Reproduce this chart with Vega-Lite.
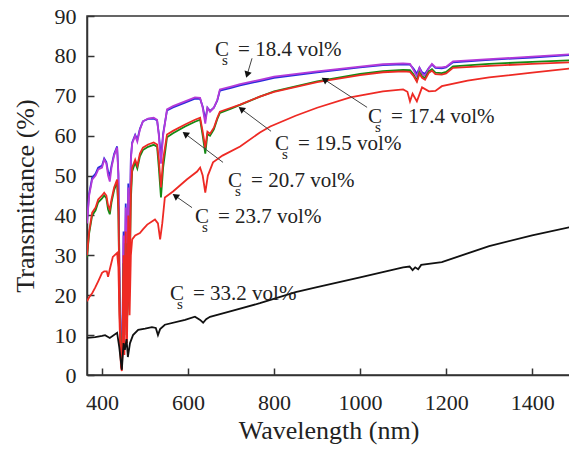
{
 "$schema": "https://vega.github.io/schema/vega-lite/v6.json",
 "autosize": "none",
 "width": 483,
 "height": 359,
 "padding": {"left": 87, "top": 16, "right": 0, "bottom": 74},
 "background": "white",
 "config": {
  "font": "Liberation Serif, Times New Roman, serif",
  "view": {"stroke": "#333", "strokeWidth": 1.5},
  "axis": {"grid": false, "domainColor": "#333", "domainWidth": 1.5, "tickColor": "#333", "tickWidth": 1.5, "tickSize": -7, "labelFontSize": 22, "labelColor": "#222", "labelFont": "Liberation Serif, Times New Roman, serif", "titleFont": "Liberation Serif, Times New Roman, serif", "titleFontSize": 26, "titleFontWeight": "normal", "titleColor": "#222", "labelFlush": false, "labelOverlap": false, "format": "d"},
  "axisX": {"labelPadding": 24, "titlePadding": 4},
  "axisY": {"labelPadding": 18, "titlePadding": 16}
 },
 "datasets": {
  "curves": [
   {"s":"17.4","w":365,"t":38.5},{"s":"17.4","w":370,"t":45.5},{"s":"17.4","w":377,"t":49.5},{"s":"17.4","w":385,"t":50.5},{"s":"17.4","w":391,"t":52},{"s":"17.4","w":400,"t":52.5},{"s":"17.4","w":405,"t":54.3},{"s":"17.4","w":410,"t":53.4},{"s":"17.4","w":414,"t":51},{"s":"17.4","w":418,"t":50},{"s":"17.4","w":422,"t":52.5},{"s":"17.4","w":428,"t":55.4},{"s":"17.4","w":435,"t":57.3},{"s":"17.4","w":438,"t":50.5},{"s":"17.4","w":441,"t":21},{"s":"17.4","w":444,"t":5},{"s":"17.4","w":446,"t":2.5},{"s":"17.4","w":448,"t":16},{"s":"17.4","w":450,"t":36},{"s":"17.4","w":452,"t":13},{"s":"17.4","w":455,"t":43},{"s":"17.4","w":458,"t":24},{"s":"17.4","w":461,"t":48},{"s":"17.4","w":464,"t":34},{"s":"17.4","w":467,"t":54.5},{"s":"17.4","w":470,"t":58.3},{"s":"17.4","w":477,"t":60.2},{"s":"17.4","w":482,"t":59},{"s":"17.4","w":488,"t":61.7},{"s":"17.4","w":495,"t":63.6},{"s":"17.4","w":507,"t":64.2},{"s":"17.4","w":520,"t":64.3},{"s":"17.4","w":528,"t":63.8},{"s":"17.4","w":532,"t":60.5},{"s":"17.4","w":537,"t":54.5},{"s":"17.4","w":542,"t":60.5},{"s":"17.4","w":551,"t":66.3},{"s":"17.4","w":565,"t":67.1},{"s":"17.4","w":593,"t":68.3},{"s":"17.4","w":616,"t":69.3},{"s":"17.4","w":628,"t":69.2},{"s":"17.4","w":634,"t":67.3},{"s":"17.4","w":640,"t":64},{"s":"17.4","w":645,"t":67},{"s":"17.4","w":651,"t":66.2},{"s":"17.4","w":660,"t":67},{"s":"17.4","w":668,"t":68.8},{"s":"17.4","w":674,"t":71.3},{"s":"17.4","w":700,"t":72},{"s":"17.4","w":721,"t":72.6},{"s":"17.4","w":767,"t":73.7},{"s":"17.4","w":800,"t":74.5},{"s":"17.4","w":900,"t":75.9},{"s":"17.4","w":1000,"t":77.1},{"s":"17.4","w":1053,"t":77.7},{"s":"17.4","w":1100,"t":77.9},{"s":"17.4","w":1116,"t":77.8},{"s":"17.4","w":1124,"t":76.8},{"s":"17.4","w":1132,"t":75.5},{"s":"17.4","w":1138,"t":77},{"s":"17.4","w":1144,"t":75.9},{"s":"17.4","w":1151,"t":75.5},{"s":"17.4","w":1160,"t":77},{"s":"17.4","w":1167,"t":77.8},{"s":"17.4","w":1175,"t":77},{"s":"17.4","w":1190,"t":76.9},{"s":"17.4","w":1200,"t":77.1},{"s":"17.4","w":1216,"t":78.4},{"s":"17.4","w":1300,"t":79},{"s":"17.4","w":1400,"t":79.6},{"s":"17.4","w":1486,"t":80.2},

   {"s":"18.4","w":365,"t":38},{"s":"18.4","w":370,"t":45},{"s":"18.4","w":377,"t":49},{"s":"18.4","w":385,"t":50},{"s":"18.4","w":391,"t":51.5},{"s":"18.4","w":400,"t":52},{"s":"18.4","w":405,"t":54},{"s":"18.4","w":410,"t":53},{"s":"18.4","w":414,"t":50},{"s":"18.4","w":418,"t":48.5},{"s":"18.4","w":422,"t":52},{"s":"18.4","w":428,"t":55},{"s":"18.4","w":435,"t":57},{"s":"18.4","w":438,"t":50},{"s":"18.4","w":441,"t":20},{"s":"18.4","w":444,"t":4},{"s":"18.4","w":446,"t":2},{"s":"18.4","w":448,"t":15},{"s":"18.4","w":450,"t":35},{"s":"18.4","w":452,"t":12},{"s":"18.4","w":455,"t":42},{"s":"18.4","w":458,"t":22},{"s":"18.4","w":461,"t":47},{"s":"18.4","w":464,"t":32},{"s":"18.4","w":467,"t":54},{"s":"18.4","w":470,"t":58},{"s":"18.4","w":477,"t":60},{"s":"18.4","w":482,"t":58.5},{"s":"18.4","w":488,"t":61.5},{"s":"18.4","w":495,"t":63.6},{"s":"18.4","w":507,"t":64.3},{"s":"18.4","w":520,"t":64.5},{"s":"18.4","w":528,"t":64},{"s":"18.4","w":532,"t":60},{"s":"18.4","w":537,"t":53},{"s":"18.4","w":542,"t":60},{"s":"18.4","w":551,"t":66.6},{"s":"18.4","w":565,"t":67.4},{"s":"18.4","w":593,"t":68.6},{"s":"18.4","w":616,"t":69.6},{"s":"18.4","w":628,"t":69.5},{"s":"18.4","w":634,"t":67},{"s":"18.4","w":640,"t":63},{"s":"18.4","w":645,"t":67},{"s":"18.4","w":651,"t":66},{"s":"18.4","w":660,"t":67},{"s":"18.4","w":668,"t":69},{"s":"18.4","w":674,"t":71.6},{"s":"18.4","w":700,"t":72.3},{"s":"18.4","w":721,"t":72.9},{"s":"18.4","w":767,"t":74},{"s":"18.4","w":800,"t":74.8},{"s":"18.4","w":900,"t":76.1},{"s":"18.4","w":1000,"t":77.3},{"s":"18.4","w":1053,"t":77.9},{"s":"18.4","w":1100,"t":78.1},{"s":"18.4","w":1116,"t":78},{"s":"18.4","w":1124,"t":76.5},{"s":"18.4","w":1132,"t":74.8},{"s":"18.4","w":1138,"t":77},{"s":"18.4","w":1144,"t":75.5},{"s":"18.4","w":1151,"t":75},{"s":"18.4","w":1160,"t":77},{"s":"18.4","w":1167,"t":78},{"s":"18.4","w":1175,"t":77.2},{"s":"18.4","w":1190,"t":77.1},{"s":"18.4","w":1200,"t":77.3},{"s":"18.4","w":1216,"t":78.6},{"s":"18.4","w":1300,"t":79.2},{"s":"18.4","w":1400,"t":79.8},{"s":"18.4","w":1486,"t":80.4},

   {"s":"19.5","w":365,"t":29.5},{"s":"19.5","w":370,"t":35.5},{"s":"19.5","w":377,"t":40},{"s":"19.5","w":385,"t":41.3},{"s":"19.5","w":391,"t":43.3},{"s":"19.5","w":400,"t":44.3},{"s":"19.5","w":405,"t":45},{"s":"19.5","w":410,"t":44.3},{"s":"19.5","w":414,"t":41.5},{"s":"19.5","w":418,"t":40.3},{"s":"19.5","w":422,"t":43.3},{"s":"19.5","w":428,"t":46.3},{"s":"19.5","w":435,"t":48.4},{"s":"19.5","w":438,"t":41},{"s":"19.5","w":441,"t":16},{"s":"19.5","w":444,"t":3},{"s":"19.5","w":446,"t":2},{"s":"19.5","w":448,"t":12},{"s":"19.5","w":450,"t":28},{"s":"19.5","w":452,"t":10},{"s":"19.5","w":455,"t":33},{"s":"19.5","w":458,"t":14},{"s":"19.5","w":461,"t":19},{"s":"19.5","w":464,"t":25},{"s":"19.5","w":467,"t":44},{"s":"19.5","w":470,"t":51},{"s":"19.5","w":477,"t":53.3},{"s":"19.5","w":482,"t":51.8},{"s":"19.5","w":488,"t":54.8},{"s":"19.5","w":495,"t":56.4},{"s":"19.5","w":507,"t":57.2},{"s":"19.5","w":520,"t":57.7},{"s":"19.5","w":528,"t":57.2},{"s":"19.5","w":532,"t":52},{"s":"19.5","w":537,"t":44.5},{"s":"19.5","w":542,"t":52},{"s":"19.5","w":551,"t":59.6},{"s":"19.5","w":565,"t":60.6},{"s":"19.5","w":593,"t":62.3},{"s":"19.5","w":616,"t":63.5},{"s":"19.5","w":628,"t":64},{"s":"19.5","w":634,"t":60},{"s":"19.5","w":640,"t":55.5},{"s":"19.5","w":645,"t":60.4},{"s":"19.5","w":651,"t":60},{"s":"19.5","w":660,"t":61.6},{"s":"19.5","w":668,"t":64.2},{"s":"19.5","w":674,"t":65.7},{"s":"19.5","w":700,"t":66.8},{"s":"19.5","w":721,"t":67.7},{"s":"19.5","w":767,"t":69.8},{"s":"19.5","w":800,"t":71.1},{"s":"19.5","w":900,"t":73.6},{"s":"19.5","w":1000,"t":75.5},{"s":"19.5","w":1053,"t":76.2},{"s":"19.5","w":1100,"t":76.5},{"s":"19.5","w":1116,"t":76.4},{"s":"19.5","w":1124,"t":75.4},{"s":"19.5","w":1132,"t":73.8},{"s":"19.5","w":1138,"t":75.9},{"s":"19.5","w":1144,"t":74.9},{"s":"19.5","w":1151,"t":74.4},{"s":"19.5","w":1160,"t":76.2},{"s":"19.5","w":1167,"t":76.7},{"s":"19.5","w":1175,"t":75.8},{"s":"19.5","w":1190,"t":75.7},{"s":"19.5","w":1200,"t":76},{"s":"19.5","w":1216,"t":77.4},{"s":"19.5","w":1300,"t":78},{"s":"19.5","w":1400,"t":78.5},{"s":"19.5","w":1486,"t":78.9},

   {"s":"20.7","w":365,"t":30},{"s":"20.7","w":370,"t":36},{"s":"20.7","w":377,"t":40.7},{"s":"20.7","w":385,"t":42},{"s":"20.7","w":391,"t":44},{"s":"20.7","w":400,"t":45},{"s":"20.7","w":405,"t":45.7},{"s":"20.7","w":410,"t":45},{"s":"20.7","w":414,"t":42.5},{"s":"20.7","w":418,"t":41.5},{"s":"20.7","w":422,"t":44},{"s":"20.7","w":428,"t":47},{"s":"20.7","w":435,"t":49},{"s":"20.7","w":438,"t":42},{"s":"20.7","w":441,"t":15},{"s":"20.7","w":444,"t":2.5},{"s":"20.7","w":446,"t":1.5},{"s":"20.7","w":448,"t":10},{"s":"20.7","w":450,"t":30},{"s":"20.7","w":452,"t":8},{"s":"20.7","w":455,"t":36},{"s":"20.7","w":458,"t":12},{"s":"20.7","w":461,"t":40},{"s":"20.7","w":464,"t":22},{"s":"20.7","w":467,"t":46},{"s":"20.7","w":470,"t":52},{"s":"20.7","w":477,"t":54},{"s":"20.7","w":482,"t":52.5},{"s":"20.7","w":488,"t":55.5},{"s":"20.7","w":495,"t":57},{"s":"20.7","w":507,"t":57.8},{"s":"20.7","w":520,"t":58.3},{"s":"20.7","w":528,"t":57.8},{"s":"20.7","w":532,"t":54},{"s":"20.7","w":537,"t":47},{"s":"20.7","w":542,"t":54},{"s":"20.7","w":551,"t":60.3},{"s":"20.7","w":565,"t":61.2},{"s":"20.7","w":593,"t":62.8},{"s":"20.7","w":616,"t":64},{"s":"20.7","w":628,"t":64.5},{"s":"20.7","w":634,"t":61},{"s":"20.7","w":640,"t":57},{"s":"20.7","w":645,"t":61},{"s":"20.7","w":651,"t":60.5},{"s":"20.7","w":660,"t":62},{"s":"20.7","w":668,"t":64.5},{"s":"20.7","w":674,"t":66},{"s":"20.7","w":700,"t":67},{"s":"20.7","w":721,"t":67.8},{"s":"20.7","w":767,"t":69.8},{"s":"20.7","w":800,"t":71},{"s":"20.7","w":900,"t":73.4},{"s":"20.7","w":1000,"t":75.2},{"s":"20.7","w":1053,"t":75.9},{"s":"20.7","w":1100,"t":76.1},{"s":"20.7","w":1116,"t":76},{"s":"20.7","w":1124,"t":75},{"s":"20.7","w":1132,"t":73.5},{"s":"20.7","w":1138,"t":75.5},{"s":"20.7","w":1144,"t":74.5},{"s":"20.7","w":1151,"t":74},{"s":"20.7","w":1160,"t":75.8},{"s":"20.7","w":1167,"t":76.3},{"s":"20.7","w":1175,"t":75.4},{"s":"20.7","w":1190,"t":75.3},{"s":"20.7","w":1200,"t":75.6},{"s":"20.7","w":1216,"t":77},{"s":"20.7","w":1300,"t":77.5},{"s":"20.7","w":1400,"t":78},{"s":"20.7","w":1486,"t":78.4},

   {"s":"23.7","w":365,"t":18.5},{"s":"23.7","w":370,"t":19.5},{"s":"23.7","w":377,"t":20.5},{"s":"23.7","w":384,"t":21.9},{"s":"23.7","w":391,"t":23.5},{"s":"23.7","w":400,"t":25.6},{"s":"23.7","w":405,"t":26},{"s":"23.7","w":411,"t":26},{"s":"23.7","w":414,"t":24.6},{"s":"23.7","w":418,"t":26.5},{"s":"23.7","w":425,"t":29.6},{"s":"23.7","w":435,"t":30.6},{"s":"23.7","w":438,"t":27},{"s":"23.7","w":441,"t":12},{"s":"23.7","w":444,"t":2},{"s":"23.7","w":446,"t":1},{"s":"23.7","w":448,"t":8},{"s":"23.7","w":450,"t":25},{"s":"23.7","w":452,"t":5},{"s":"23.7","w":455,"t":30},{"s":"23.7","w":458,"t":8},{"s":"23.7","w":461,"t":33},{"s":"23.7","w":464,"t":15},{"s":"23.7","w":467,"t":30},{"s":"23.7","w":470,"t":34},{"s":"23.7","w":477,"t":35},{"s":"23.7","w":488,"t":35.6},{"s":"23.7","w":495,"t":36.5},{"s":"23.7","w":505,"t":37.7},{"s":"23.7","w":523,"t":39},{"s":"23.7","w":530,"t":38},{"s":"23.7","w":535,"t":34},{"s":"23.7","w":540,"t":38},{"s":"23.7","w":546,"t":44.5},{"s":"23.7","w":565,"t":46},{"s":"23.7","w":597,"t":49},{"s":"23.7","w":621,"t":51},{"s":"23.7","w":628,"t":52},{"s":"23.7","w":634,"t":50},{"s":"23.7","w":640,"t":45.7},{"s":"23.7","w":646,"t":50},{"s":"23.7","w":658,"t":53.3},{"s":"23.7","w":680,"t":55},{"s":"23.7","w":721,"t":57.3},{"s":"23.7","w":767,"t":60.8},{"s":"23.7","w":791,"t":62.3},{"s":"23.7","w":850,"t":65},{"s":"23.7","w":900,"t":67},{"s":"23.7","w":977,"t":69.6},{"s":"23.7","w":1053,"t":71.1},{"s":"23.7","w":1100,"t":71.6},{"s":"23.7","w":1110,"t":71},{"s":"23.7","w":1116,"t":68.6},{"s":"23.7","w":1122,"t":70.5},{"s":"23.7","w":1132,"t":68.6},{"s":"23.7","w":1144,"t":72.1},{"s":"23.7","w":1160,"t":71.1},{"s":"23.7","w":1175,"t":71.2},{"s":"23.7","w":1190,"t":72.4},{"s":"23.7","w":1250,"t":73.8},{"s":"23.7","w":1300,"t":74.6},{"s":"23.7","w":1400,"t":75.8},{"s":"23.7","w":1486,"t":76.8},

   {"s":"33.2","w":365,"t":9.3},{"s":"33.2","w":384,"t":9.5},{"s":"33.2","w":400,"t":9.8},{"s":"33.2","w":407,"t":10},{"s":"33.2","w":418,"t":9.3},{"s":"33.2","w":435,"t":10.6},{"s":"33.2","w":440,"t":7},{"s":"33.2","w":446,"t":1.3},{"s":"33.2","w":450,"t":8},{"s":"33.2","w":453,"t":6.3},{"s":"33.2","w":457,"t":9},{"s":"33.2","w":460,"t":4.5},{"s":"33.2","w":465,"t":8},{"s":"33.2","w":472,"t":10},{"s":"33.2","w":484,"t":11.3},{"s":"33.2","w":500,"t":11.6},{"s":"33.2","w":516,"t":12},{"s":"33.2","w":525,"t":11.8},{"s":"33.2","w":530,"t":10},{"s":"33.2","w":535,"t":11.5},{"s":"33.2","w":546,"t":12.6},{"s":"33.2","w":593,"t":13.8},{"s":"33.2","w":616,"t":14.6},{"s":"33.2","w":628,"t":13.8},{"s":"33.2","w":635,"t":13.1},{"s":"33.2","w":642,"t":14},{"s":"33.2","w":651,"t":14.6},{"s":"33.2","w":700,"t":16},{"s":"33.2","w":767,"t":18},{"s":"33.2","w":850,"t":20.8},{"s":"33.2","w":900,"t":22},{"s":"33.2","w":1000,"t":24.5},{"s":"33.2","w":1100,"t":27},{"s":"33.2","w":1115,"t":27.2},{"s":"33.2","w":1122,"t":26.3},{"s":"33.2","w":1128,"t":27},{"s":"33.2","w":1135,"t":26.5},{"s":"33.2","w":1142,"t":27.6},{"s":"33.2","w":1190,"t":28.3},{"s":"33.2","w":1250,"t":30.5},{"s":"33.2","w":1300,"t":32.3},{"s":"33.2","w":1400,"t":35},{"s":"33.2","w":1486,"t":37}
  ],
  "ann": [
   {"id":"18.4","x":662.7,"y":79.9,"txt":"= 18.4 vol%"},
   {"id":"17.4","x":1018.5,"y":63.3,"txt":"= 17.4 vol%"},
   {"id":"19.5","x":802,"y":56.5,"txt":"= 19.5 vol%"},
   {"id":"20.7","x":693,"y":47.2,"txt":"= 20.7 vol%"},
   {"id":"23.7","x":616,"y":38.2,"txt":"= 23.7 vol%"},
   {"id":"33.2","x":558,"y":18.8,"txt":"= 33.2 vol%"}
  ],
  "arrows": [
   {"id":"18.4","x1":748.7,"y1":79.4,"x2":737.4,"y2":75.3},
   {"id":"17.4","x1":1016.2,"y1":67.1,"x2":917.0,"y2":74.07},
   {"id":"19.5","x1":792.9,"y1":61.1,"x2":723.6,"y2":66.7},
   {"id":"20.7","x1":681.3,"y1":53.3,"x2":593.4,"y2":60.45},
   {"id":"23.7","x1":609.2,"y1":41.96,"x2":570.3,"y2":44.9}
  ]
 },
 "encoding": {
  "x": {"type": "quantitative", "title": "Wavelength (nm)", "scale": {"domain": [365, 1488], "nice": false, "zero": false},
        "axis": {"values": [400, 600, 800, 1000, 1200, 1400], "format": "d"}},
  "y": {"type": "quantitative", "title": "Transmittance (%)", "scale": {"domain": [0, 90], "nice": false, "zero": false},
        "axis": {"values": [0, 10, 20, 30, 40, 50, 60, 70, 80, 90], "format": "d"}}
 },
 "layer": [
  {
   "data": {"name": "curves"},
   "mark": {"type": "line", "strokeWidth": 1.8, "clip": true},
   "encoding": {
    "x": {"field": "w"},
    "y": {"field": "t"},
    "color": {"field": "s", "type": "nominal", "legend": null,
              "scale": {"domain": ["17.4", "18.4", "19.5", "20.7", "23.7", "33.2"], "range": ["#2b2bdc", "#b53ad8", "#138a13", "#ee2a24", "#ee2a24", "#111111"]}}
   }
  },
  {
   "data": {"name": "arrows"},
   "mark": {"type": "rule", "color": "#444", "strokeWidth": 1},
   "encoding": {
    "x": {"field": "x1"},
    "y": {"field": "y1"},
    "x2": {"field": "x2"},
    "y2": {"field": "y2"}
   }
  },
  {
   "data": {"name": "arrows"},
   "transform": [{"filter": "datum.id == '18.4'"}],
   "mark": {"type": "point", "shape": "triangle-up", "filled": true, "color": "#111", "size": 55, "angle": 197, "opacity": 1},
   "encoding": {"x": {"field": "x2"}, "y": {"field": "y2"}}
  },
  {
   "data": {"name": "arrows"},
   "transform": [{"filter": "datum.id == '17.4'"}],
   "mark": {"type": "point", "shape": "triangle-up", "filled": true, "color": "#111", "size": 55, "angle": 303, "opacity": 1},
   "encoding": {"x": {"field": "x2"}, "y": {"field": "y2"}}
  },
  {
   "data": {"name": "arrows"},
   "transform": [{"filter": "datum.id == '19.5' || datum.id == '20.7'"}],
   "mark": {"type": "point", "shape": "triangle-up", "filled": true, "color": "#111", "size": 55, "angle": 307, "opacity": 1},
   "encoding": {"x": {"field": "x2"}, "y": {"field": "y2"}}
  },
  {
   "data": {"name": "arrows"},
   "transform": [{"filter": "datum.id == '23.7'"}],
   "mark": {"type": "point", "shape": "triangle-up", "filled": true, "color": "#111", "size": 55, "angle": 305, "opacity": 1},
   "encoding": {"x": {"field": "x2"}, "y": {"field": "y2"}}
  },
  {
   "data": {"name": "ann"},
   "mark": {"type": "text", "text": "C", "align": "left", "baseline": "alphabetic", "fontSize": 21, "color": "#222", "font": "Liberation Serif, Times New Roman, serif"},
   "encoding": {"x": {"field": "x"}, "y": {"field": "y"}}
  },
  {
   "data": {"name": "ann"},
   "mark": {"type": "text", "text": "s", "align": "left", "baseline": "alphabetic", "fontSize": 15, "dx": 7, "dy": 9, "color": "#222", "font": "Liberation Serif, Times New Roman, serif"},
   "encoding": {"x": {"field": "x"}, "y": {"field": "y"}}
  },
  {
   "data": {"name": "ann"},
   "mark": {"type": "text", "align": "left", "baseline": "alphabetic", "fontSize": 21, "dx": 23, "color": "#222", "font": "Liberation Serif, Times New Roman, serif"},
   "encoding": {"x": {"field": "x"}, "y": {"field": "y"}, "text": {"field": "txt"}}
  }
 ]
}
